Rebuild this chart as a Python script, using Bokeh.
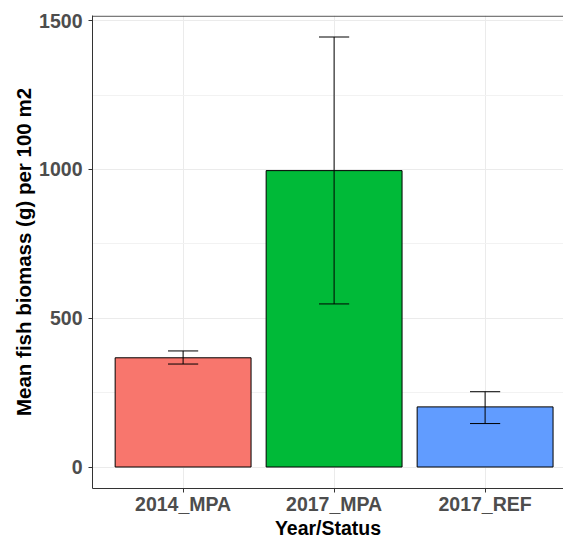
from bokeh.plotting import figure
from bokeh.models import ColumnDataSource, Range1d, FixedTicker, Span
from bokeh.embed import file_html
from bokeh.resources import INLINE

# ---- data ----
categories = ["2014_MPA", "2017_MPA", "2017_REF"]
means = [367, 996, 202]
err_low = [346, 548, 146]
err_high = [390, 1445, 253]
bar_colors = ["#F8766D", "#00BA38", "#619CFF"]
y_ticks = [0, 500, 1000, 1500]
y_minor = [250, 750, 1250]

xpos = [i + 1 for i in range(len(categories))]
cap = 0.1
src = ColumnDataSource(dict(
    x=xpos, top=means, color=bar_colors,
    lo=err_low, hi=err_high,
    xl=[x - cap for x in xpos], xr=[x + cap for x in xpos],
))

ymax = max(err_high)
pad = 0.05 * ymax
W, H = 563, 541
LB = 92
frame_w = W - LB
p = figure(width=W, height=H, output_backend="svg", toolbar_location=None,
           x_range=Range1d(0.4, 0.4 + frame_w / 151.0),
           y_range=Range1d(-pad, ymax + pad),
           min_border_left=LB, min_border_right=0, min_border_top=15,
           min_border_bottom=53)
p.outline_line_color = None
p.background_fill_color = "white"
p.border_fill_color = "white"

p.vbar(x="x", top="top", bottom=0, width=0.9, fill_color="color",
       line_color="black", line_width=1, source=src)
p.segment(x0="x", x1="x", y0="lo", y1="hi", line_color="black", line_width=1, source=src)
p.segment(x0="xl", x1="xr", y0="lo", y1="lo", line_color="black", line_width=1, source=src)
p.segment(x0="xl", x1="xr", y0="hi", y1="hi", line_color="black", line_width=1, source=src)

# top border
p.add_layout(Span(location=ymax + pad * 0.97, dimension="width",
                  line_color="#333333", line_width=1))

p.xaxis.ticker = FixedTicker(ticks=xpos)
p.xaxis.major_label_overrides = {x: c for x, c in zip(xpos, categories)}
p.yaxis.ticker = FixedTicker(ticks=y_ticks, minor_ticks=y_minor)
p.ygrid.ticker = FixedTicker(ticks=y_ticks, minor_ticks=y_minor)
p.xgrid.ticker = FixedTicker(ticks=xpos)

for g in (p.xgrid, p.ygrid):
    g.grid_line_color = "#EBEBEB"
    g.grid_line_width = 1
p.ygrid.minor_grid_line_color = "#F2F2F2"
p.ygrid.minor_grid_line_width = 1

p.xaxis.axis_label = "Year/Status"
p.yaxis.axis_label = "Mean fish biomass (g) per 100 m2"
for ax in (p.xaxis, p.yaxis):
    ax.axis_line_color = "#333333"
    ax.axis_line_width = 1
    ax.major_tick_line_color = "#333333"
    ax.major_tick_out = 4
    ax.major_tick_in = 0
    ax.minor_tick_line_color = None
    ax.major_label_text_font = "Liberation Sans"
    ax.major_label_text_font_style = "bold"
    ax.major_label_text_font_size = "19.5px"
    ax.major_label_text_color = "#4D4D4D"
    ax.axis_label_text_font = "Liberation Sans"
    ax.axis_label_text_font_style = "bold"
    ax.axis_label_text_color = "black"
p.xaxis.axis_label_text_font_size = "19.5px"
p.yaxis.axis_label_text_font_size = "20.5px"
p.xaxis.major_label_standoff = 0
p.xaxis.axis_label_standoff = -1
p.yaxis.major_label_standoff = 6
p.yaxis.axis_label_standoff = 1

open("out.html", "w").write(file_html(p, INLINE))
